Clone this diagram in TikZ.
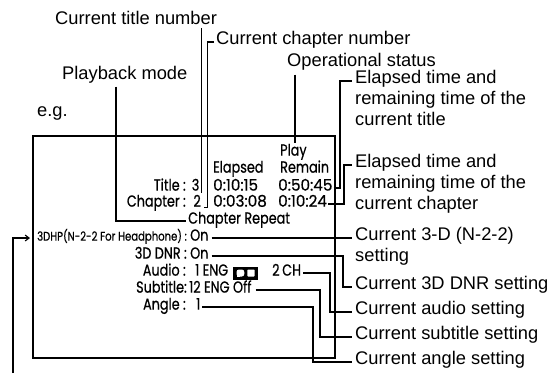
\documentclass[tikz,border=0pt]{standalone}
\usepackage{fontspec}
\setmainfont{Liberation Sans}
\newfontfamily\boxfont[FakeStretch=0.80,FakeBold=0.6]{Poppins}
\newfontfamily\boxdig[FakeStretch=0.95,FakeBold=0.6]{Poppins}
\usetikzlibrary{arrows.meta}
\begin{document}
\begin{tikzpicture}[x=1pt,y=-1pt,
  lbl/.style={font=\fontsize{18.3}{21}\selectfont, inner sep=0pt, anchor=mid west},
  scr/.style={font=\boxfont\fontsize{16}{18}\selectfont, inner sep=0pt},
  dig/.style={font=\boxdig\fontsize{16}{18}\selectfont, inner sep=0pt},
  scrs/.style={font=\boxfont\fontsize{12.6}{14}\selectfont, inner sep=0pt},
  conn/.style={line width=1.1pt},
  frame/.style={draw, line width=1.7pt, inner sep=0pt}]
\useasboundingbox[fill=white] (0,0) rectangle (560,373);

% screen frame
\node[frame, minimum width=302pt, minimum height=222pt, anchor=north west] (screen) at (32,135) {};

% outer labels (top)
\node[lbl] (ctn) at (55,22) {Current title number};
\node[lbl] (ccn) at (216,42) {Current chapter number};
\node[lbl] (ops) at (287,64) {Operational status};
\node[lbl] (pbm) at (62,77) {Playback mode};
\node[lbl] (eg) at (37,114) {e.g.};

% right labels
\node[lbl] (t1a) at (355,81) {Elapsed time and};
\node[lbl] (t1b) at (355,102) {remaining time of the};
\node[lbl] (t1c) at (355,123) {current title};
\node[lbl] (t2a) at (355,165) {Elapsed time and};
\node[lbl] (t2b) at (355,186) {remaining time of the};
\node[lbl] (t2c) at (355,207) {current chapter};
\node[lbl] (t3a) at (355,238) {Current 3-D (N-2-2)};
\node[lbl] (t3b) at (355,259) {setting};
\node[lbl] (t4) at (355,287) {Current 3D DNR setting};
\node[lbl] (t5) at (355,312) {Current audio setting};
\node[lbl] (t6) at (355,337) {Current subtitle setting};
\node[lbl] (t7) at (355,362) {Current angle setting};

% screen contents
\node[scr, anchor=mid west] (play) at (280,153) {Play};
\node[scr, anchor=mid west] (elapsed) at (213,170) {Elapsed};
\node[scr, anchor=mid west] (remain) at (280,170) {Remain};
\node[scr, anchor=mid east] (titlek) at (186,188) {Title :};
\node[scr, anchor=mid east] (titlen) at (199.5,188) {3};
\node[dig, anchor=mid west] (titlee) at (213,188) {0:10:15};
\node[dig, anchor=mid west] (titler) at (278,188) {0:50:45};
\node[scr, anchor=mid east] (chapk) at (186,204) {Chapter :};
\node[scr, anchor=mid east] (chapn) at (201,204) {2};
\node[dig, anchor=mid west] (chape) at (213,204) {0:03:08};
\node[dig, anchor=mid west] (chapr) at (278,204) {0:10:24};
\node[scr, anchor=mid west] (repeat) at (188,221) {Chapter Repeat};
\node[scrs, anchor=mid east] (dhpk) at (187,238) {3DHP(N-2-2 For Headphone) :};
\node[scr, anchor=mid west] (dhpv) at (190,238) {On};
\node[scr, anchor=mid east] (dnrk) at (187,256) {3D DNR :};
\node[scr, anchor=mid west] (dnrv) at (190,256) {On};
\node[scr, anchor=mid east] (audk) at (186,273) {Audio :};
\node[scr, anchor=mid west] (aud1) at (195,273) {1 ENG};
\node[scr, anchor=mid west] (aud2) at (272,273) {2\,CH};
\node[scr, anchor=mid east] (subk) at (187,290) {Subtitle:};
\node[scr, anchor=mid west] (subv) at (189,290) {12 ENG Off};
\node[scr, anchor=mid east] (angk) at (186,307) {Angle :};
\node[scr, anchor=mid west] (angv) at (196,307) {1};

% Dolby double-D symbol
\fill (233,266.5) rectangle (258,279.5);
\fill[white, rounded corners=2.5pt] (236.5,269.5) rectangle (244.3,276.5);
\fill[white] (236.5,269.5) rectangle (240,276.5);
\fill[white, rounded corners=0.8pt] (247.3,269.5) rectangle (254.6,276.5);

% helper coordinates
\coordinate (tl) at (201.5,193);
\coordinate (cl) at (207.5,207.5);
\coordinate (pl) at (116,0);
\coordinate (op) at (295,143);
\coordinate (v1) at (340,0);
\coordinate (v2) at (344,0);
\coordinate (v4) at (343,0);
\coordinate (v5) at (330,0);
\coordinate (v6) at (320,0);
\coordinate (v7) at (313,0);
\coordinate (src) at (13,373);

% connectors
\draw[conn] ([yshift=-3pt]ctn.south -| tl) -- (tl);
\draw[conn] ([xshift=-2pt]ccn.mid west) -| (cl) -- ++(-3.5,0);
\draw[conn] ([yshift=-3pt]pbm.south -| pl) -- (pl |- repeat.mid west) -- ([xshift=-2pt]repeat.mid west);
\draw[conn] ([yshift=-4pt]ops.south -| op) -- (op);
\draw[conn] ([xshift=1pt]titler.mid east) -- (titler.mid east -| v1) -- (v1 |- t1a.mid west) -- ([xshift=-3pt]t1a.mid west);
\draw[conn] ([xshift=1pt]chapr.mid east) -- (chapr.mid east -| v2) -- (v2 |- t2a.mid west) -- ([xshift=-3pt]t2a.mid west);
\draw[conn] ([xshift=3pt]dhpv.mid east) -- ([xshift=-3pt]t3a.mid west);
\draw[conn] ([xshift=3pt]dnrv.mid east) -- (dnrv.mid east -| v4) -- (v4 |- t4.mid west) -- ([xshift=-3pt]t4.mid west);
\draw[conn] ([xshift=2pt]aud2.mid east) -- (aud2.mid east -| v5) -- (v5 |- t5.mid west) -- ([xshift=-3pt]t5.mid west);
\draw[conn] ([xshift=4pt]subv.mid east) -- (subv.mid east -| v6) -- (v6 |- t6.mid west) -- ([xshift=-3pt]t6.mid west);
\draw[conn] ([xshift=2pt]angv.mid east) -- (angv.mid east -| v7) -- (v7 |- t7.mid west) -- ([xshift=-3pt]t7.mid west);
\draw[conn, -{Straight Barb[length=4pt,width=6pt]}] (src) |- ([xshift=-2pt]screen.west |- dhpk.mid west);
\end{tikzpicture}
\end{document}
